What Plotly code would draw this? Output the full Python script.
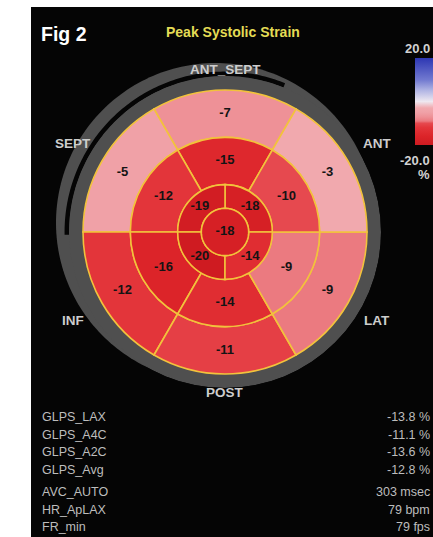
import numpy as np
import plotly.graph_objects as go

# ---- data: peak systolic longitudinal strain (%) per LV segment ----
walls6 = ["ANT_SEPT", "SEPT", "INF", "POST", "LAT", "ANT"]
basal_strain = [-7, -5, -12, -11, -9, -3]
mid_strain = [-15, -12, -16, -14, -9, -10]
apical_walls = ["ANT", "SEPT", "INF", "LAT"]
apical_strain = [-18, -19, -20, -14]
apex_strain = [-18]

global_labels = ["GLPS_LAX", "GLPS_A4C", "GLPS_A2C", "GLPS_Avg"]
global_values = [-13.8, -11.1, -13.6, -12.8]
timing_labels = ["AVC_AUTO", "HR_ApLAX", "FR_min"]
timing_values = [303, 79, 79]
timing_units = ["msec", "bpm", "fps"]

scale_min, scale_max = -20.0, 20.0

# ---- layout constants (pixels) ----
W, H = 433, 537
CX, CY = 225, 232
R_APEX, R_APICAL, R_MID, R_BASAL = 142 / 6, 142 / 3, 142 * 2 / 3, 142
R_RING = 156
wall_angles6 = [90, 150, 210, 270, 330, 30]
apical_angles = [45, 135, 225, 315]


def px(x):
    return x / W


def py(y):
    return 1 - y / H


strain_scale = [
    [0.0, "#cf1b21"], [0.1, "#dc2429"], [0.2, "#e3353a"], [0.25, "#e6494f"],
    [0.275, "#eb7a80"], [0.325, "#ee9197"], [0.375, "#f0a1a7"], [0.425, "#f1a9ae"],
    [0.5, "#eee8f0"], [0.625, "#b2b6e4"], [0.75, "#7179d0"], [1.0, "#2d37b3"],
]

YELLOW = "#f2c23c"
RING_GREY = "#4f4f4f"
seg_line = dict(color=YELLOW, width=1.6)

fig = go.Figure()

# grey wall ring around the map
fig.add_trace(go.Barpolar(
    theta=[90, 270], width=[180, 180], base=R_BASAL, r=[R_RING - R_BASAL] * 2,
    marker=dict(color=RING_GREY, line=dict(width=0)), hoverinfo="skip",
))

rings = [
    (basal_strain, wall_angles6, 60, R_MID, R_BASAL),
    (mid_strain, wall_angles6, 60, R_APICAL, R_MID),
    (apical_strain, apical_angles, 90, R_APEX, R_APICAL),
    (apex_strain, [0], 360, 0, R_APEX),
]
for vals, angs, w, r0, r1 in rings:
    if w == 360:
        # full disc drawn as two halves
        fig.add_trace(go.Barpolar(
            theta=[90, 270], width=[180, 180], base=r0, r=[r1 - r0] * 2,
            marker=dict(color=vals * 2, coloraxis="coloraxis",
                        line=dict(width=0)),
            hoverinfo="skip"))
        continue
    fig.add_trace(go.Barpolar(
        theta=angs, width=[w] * len(vals), base=r0, r=[r1 - r0] * len(vals),
        marker=dict(color=vals, coloraxis="coloraxis", line=seg_line),
        hoverinfo="skip",
    ))

# apex outline
th = np.linspace(0, 360, 181)
fig.add_trace(go.Scatterpolar(r=[R_APEX] * len(th), theta=th, mode="lines",
                              line=dict(color=YELLOW, width=1.6), hoverinfo="skip"))

# segment value labels
label_font = dict(family="Liberation Sans, Arial", size=13, color="#141414", weight="bold")
for vals, angs, r_lab in [
    (basal_strain, wall_angles6, (R_MID + R_BASAL) / 2),
    (mid_strain, wall_angles6, (R_APICAL + R_MID) / 2),
    (apical_strain, apical_angles, (R_APEX + R_APICAL) / 2),
    (apex_strain, [0], 0),
]:
    fig.add_trace(go.Scatterpolar(
        r=[r_lab] * len(vals), theta=angs, mode="text",
        text=[str(v) for v in vals], textfont=label_font,
        hoverinfo="skip", cliponaxis=False,
    ))

# ---- background panel and septal crescent ----
def poly_path(pts, close=False):
    s = "M " + " L ".join(f"{px(x):.5f},{py(y):.5f}" for x, y in pts)
    return s + (" Z" if close else "")


def arc_pts(cx, cy, r, a0, a1, n=120):
    t = np.radians(np.linspace(a0, a1, n))
    return list(zip(cx + r * np.cos(t), cy - r * np.sin(t)))


shapes = [
    dict(type="rect", xref="paper", yref="paper", x0=px(31), x1=1.02, y0=-0.01, y1=py(7),
         fillcolor="#050505", line=dict(width=0), layer="below"),
    # outer crescent (right-ventricular side)
    dict(type="path", xref="paper", yref="paper",
         path=poly_path(arc_pts(215.85, 222.85, 159.85, 0, 360, 240), close=True),
         fillcolor=RING_GREY, line=dict(width=0), layer="below"),
    # dark gap between crescent and wall ring
    dict(type="path", xref="paper", yref="paper",
         path=poly_path(arc_pts(CX, CY, 158.2, 68, 181)),
         line=dict(color="#050505", width=4.5), layer="below"),
]

# ---- text ----
ann = []
def add_text(x, y, text, size, color, weight="normal", anchor="center", family="Liberation Sans, Arial"):
    ann.append(dict(x=px(x), y=py(y), xref="paper", yref="paper", text=text, showarrow=False,
                    xanchor=anchor, yanchor="middle",
                    font=dict(family=family, size=size, color=color, weight=weight)))

add_text(39, 34, "Fig 2", 19.5, "#ffffff", "bold", "left")
add_text(233, 32, "Peak Systolic Strain", 14, "#e4dc55", "bold")

# wall names around the ring
wall_label_r = {90: 162, 270: 160}
for name, a in zip(walls6, wall_angles6):
    r = wall_label_r.get(a, 176)
    x = CX + r * np.cos(np.radians(a))
    y = CY - r * np.sin(np.radians(a))
    add_text(x, y, name, 13.5, "#cdcdcd", "bold")

# colour-scale annotation
add_text(432, 48, "20.0", 13, "#d2d2d2", "bold", "right")
add_text(432, 160, "-20.0", 13, "#d2d2d2", "bold", "right")
add_text(424, 174, "%", 13, "#d2d2d2", "bold")

# global summary block
row_y = 417
for lab, v in zip(global_labels, global_values):
    add_text(40, row_y, lab, 12.5, "#bdbdbd", anchor="left")
    add_text(432, row_y, f"{v:.1f} %", 12.5, "#bdbdbd", anchor="right")
    row_y += 17.5
row_y += 5
for lab, v, u in zip(timing_labels, timing_values, timing_units):
    add_text(40, row_y, lab, 12.5, "#bdbdbd", anchor="left")
    add_text(432, row_y, f"{v} {u}", 12.5, "#bdbdbd", anchor="right")
    row_y += 17.5

fig.update_layout(
    width=W, height=H, margin=dict(l=0, r=0, t=0, b=0, autoexpand=False),
    paper_bgcolor="#ffffff", plot_bgcolor="#ffffff", showlegend=False,
    polar=dict(
        domain=dict(x=[px(CX - R_RING), px(CX + R_RING)], y=[py(CY + R_RING), py(CY - R_RING)]),
        bgcolor="rgba(0,0,0,0)", barmode="overlay", bargap=0, hole=0,
        radialaxis=dict(range=[0, R_RING], visible=False, showgrid=False),
        angularaxis=dict(visible=False, showgrid=False, rotation=0, direction="counterclockwise"),
    ),
    coloraxis=dict(
        colorscale=strain_scale, cmin=scale_min, cmax=scale_max,
        colorbar=dict(x=px(415), xanchor="left", y=py(101.5), yanchor="middle",
                      len=87, lenmode="pixels", thickness=30, thicknessmode="pixels",
                      outlinewidth=0, showticklabels=False, ticks="", xpad=0, ypad=0,
                      bgcolor="rgba(0,0,0,0)"),
    ),
    shapes=shapes, annotations=ann,
)

fig.write_html("out.html")
